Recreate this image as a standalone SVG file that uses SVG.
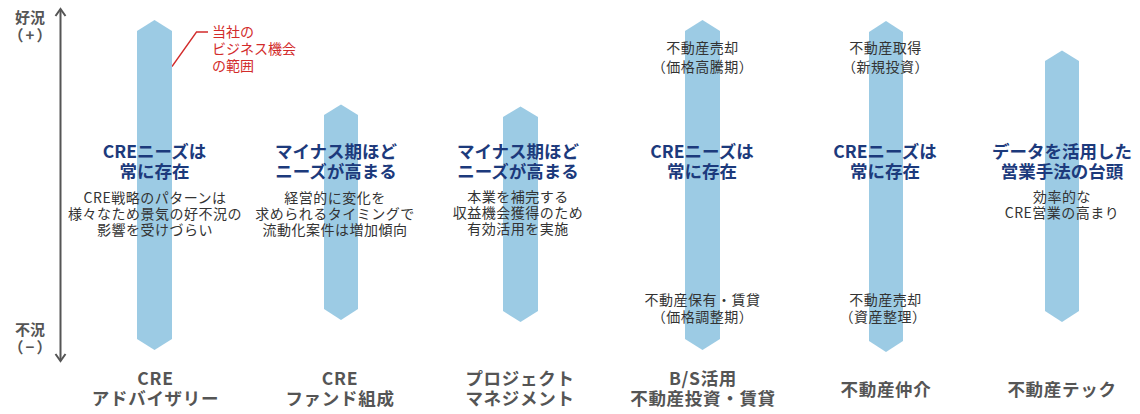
<svg xmlns="http://www.w3.org/2000/svg" width="1140" height="414" viewBox="0 0 1140 414">
<style>
text{font-family:"Noto Sans CJK JP","Noto Sans",sans-serif;text-anchor:middle}
.bar{fill:#9ccbe4}
.ttl{font-size:17.5px;font-weight:700;fill:#1c3a7c}
.dsc{font-size:14px;fill:#333;letter-spacing:0.5px}
.lbl{font-size:17.5px;font-weight:700;fill:#555;letter-spacing:0.7px}
.ax{font-size:15px;font-weight:700;fill:#555}
.axp{letter-spacing:2px}
.red{font-size:14px;fill:#d22b2b;text-anchor:start}
.axl{stroke:#555;stroke-width:2;fill:none}
</style>
<g id="connectors">
<path class="axl" d="M60.5 9 V361"/>
<path class="axl" d="M55.5 16 L60.5 9 L65.5 16"/>
<path class="axl" d="M55.5 354 L60.5 361 L65.5 354"/>
<path d="M172 66.5 L196.5 32 H208" stroke="#d22b2b" stroke-width="1.3" fill="none"/>
</g>
<g id="axis-labels">
<text class="ax" x="30" y="23">好況</text>
<text class="ax axp" x="31" y="41">（+）</text>
<text class="ax" x="30" y="335">不況</text>
<text class="ax axp" x="31" y="353">（−）</text>
</g>
<g id="col1">
<polygon class="bar" points="137,31 154.5,20 172,31 172,339 154.5,350 137,339"/>
<text class="ttl" x="154.5" y="158">CREニーズは</text>
<text class="ttl" x="154.5" y="178">常に存在</text>
<text class="dsc" x="155" y="203">CRE戦略のパターンは</text>
<text class="dsc" x="155" y="219">様々なため景気の好不況の</text>
<text class="dsc" x="155" y="235">影響を受けづらい</text>
<text class="lbl" x="155.5" y="385">CRE</text>
<text class="lbl" x="155.5" y="405">アドバイザリー</text>
</g>
<g id="callout">
<text class="red" x="212" y="37">当社の</text>
<text class="red" x="212" y="53.5">ビジネス機会</text>
<text class="red" x="212" y="71">の範囲</text>
</g>
<g id="col2">
<polygon class="bar" points="324,115 341,104.5 358,115 358,309 341,320 324,309"/>
<text class="ttl" x="336" y="158">マイナス期ほど</text>
<text class="ttl" x="336" y="178">ニーズが高まる</text>
<text class="dsc" x="335" y="203">経営的に変化を</text>
<text class="dsc" x="335" y="219">求められるタイミングで</text>
<text class="dsc" x="335" y="235">流動化案件は増加傾向</text>
<text class="lbl" x="340" y="385">CRE</text>
<text class="lbl" x="340" y="405">ファンド組成</text>
</g>
<g id="col3">
<polygon class="bar" points="503,117 520.5,106.5 538,117 538,311 520.5,322 503,311"/>
<text class="ttl" x="518" y="158">マイナス期ほど</text>
<text class="ttl" x="518" y="178">ニーズが高まる</text>
<text class="dsc" x="518" y="202">本業を補完する</text>
<text class="dsc" x="518" y="218">収益機会獲得のため</text>
<text class="dsc" x="518" y="234">有効活用を実施</text>
<text class="lbl" x="520" y="385">プロジェクト</text>
<text class="lbl" x="520" y="405">マネジメント</text>
</g>
<g id="col4">
<polygon class="bar" points="685,31 702.5,20 720,31 720,339 702.5,350 685,339"/>
<text class="dsc" x="702.5" y="53">不動産売却</text>
<text class="dsc" x="702.5" y="72">（価格高騰期）</text>
<text class="ttl" x="702" y="158">CREニーズは</text>
<text class="ttl" x="702" y="178">常に存在</text>
<text class="dsc" x="702.5" y="305">不動産保有・賃貸</text>
<text class="dsc" x="702.5" y="322">（価格調整期）</text>
<text class="lbl" x="703" y="385">B/S活用</text>
<text class="lbl" x="703" y="405">不動産投資・賃貸</text>
</g>
<g id="col5">
<polygon class="bar" points="869,32 886,21 903,32 903,341 886,352 869,341"/>
<text class="dsc" x="885.5" y="53">不動産取得</text>
<text class="dsc" x="885.5" y="72">（新規投資）</text>
<text class="ttl" x="885" y="158">CREニーズは</text>
<text class="ttl" x="885" y="178">常に存在</text>
<text class="dsc" x="885.5" y="305">不動産売却</text>
<text class="dsc" x="883" y="322">（資産整理）</text>
<text class="lbl" x="886" y="396">不動産仲介</text>
</g>
<g id="col6">
<polygon class="bar" points="1045,61 1062,50.5 1079,61 1079,311 1062,322 1045,311"/>
<text class="ttl" x="1062" y="158">データを活用した</text>
<text class="ttl" x="1062" y="178">営業手法の台頭</text>
<text class="dsc" x="1062" y="202">効率的な</text>
<text class="dsc" x="1062" y="218">CRE営業の高まり</text>
<text class="lbl" x="1062" y="396">不動産テック</text>
</g>
</svg>
